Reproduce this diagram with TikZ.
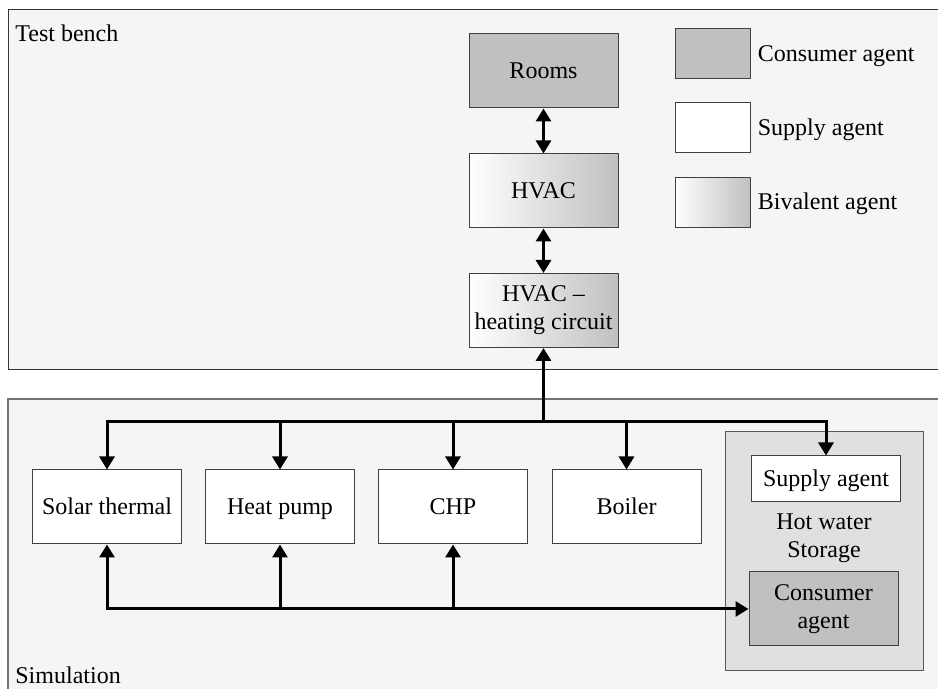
\documentclass[tikz,border=0pt]{standalone}
\usepackage{fontspec}
\setmainfont{Liberation Serif}
\usetikzlibrary{arrows.meta,positioning}
\definecolor{panelgray}{RGB}{245,245,245}
\definecolor{consgray}{RGB}{192,192,192}
\definecolor{storegray}{RGB}{224,224,224}
\definecolor{edgegray}{RGB}{64,64,64}

\begin{document}
\begin{tikzpicture}[x=0.5pt,y=-0.5pt,
  every node/.style={font=\fontsize{12}{14}\selectfont},
  agent/.style={draw=edgegray, line width=0.5pt, minimum width=74.5pt, minimum height=37pt, inner sep=1pt, align=center},
  supply/.style={agent, fill=white},
  consumer/.style={agent, fill=consgray},
  bivalent/.style={agent, left color=white, right color=consgray},
  oneline/.style={text height=8.5pt, text depth=1pt},
  legendbox/.style={draw=edgegray, line width=0.5pt, minimum width=37.5pt, minimum height=25pt, inner sep=0pt},
  flow/.style={line width=1.5pt, line cap=rect, -{Triangle[length=6.5pt,width=7.5pt]}},
  flowboth/.style={line width=1.5pt, {Triangle[length=6.5pt,width=7.5pt]}-{Triangle[length=6.5pt,width=7.5pt]}}
]
\useasboundingbox (0,0) rectangle (938,689);
\clip (0,0) rectangle (938,689);

% panels
\draw[fill=panelgray, draw=black!80, line width=0.5pt] (8,9.5) rectangle (950,370);
\node[anchor=base west, inner sep=0pt] (bench) at (15,42) {Test bench};
\draw[fill=panelgray, draw=black!55, line width=0.7pt] (8,399) rectangle (950,700);
\node[anchor=base west, inner sep=0pt] (sim) at (15,683) {Simulation};

% test bench
\node[consumer, oneline] (rooms) at (543.5,71) {Rooms};
\node[bivalent, oneline] (hvac) at (543.5,191) {HVAC};
\node[bivalent] (hc) at (543.5,310.5) {HVAC --\\heating circuit};

% legend
\node[legendbox, fill=consgray] (lcons) at (712.5,54) {};
\node[legendbox, fill=white] (lsup) at (712.5,128) {};
\node[legendbox, left color=white, right color=consgray] (lbiv) at (712.5,202.5) {};
\node[right=3.5pt of lcons, inner sep=0pt, oneline] (tcons) {Consumer agent};
\node[right=3.5pt of lsup, inner sep=0pt, oneline] (tsup) {Supply agent};
\node[right=3.5pt of lbiv, inner sep=0pt, oneline] (tbiv) {Bivalent agent};

% simulation
\node[supply, oneline] (solar) at (107,507) {Solar thermal};
\node[supply, oneline] (hp) at (280,507) {Heat pump};
\node[supply, oneline] (chp) at (453,507) {CHP};
\node[supply, oneline] (boiler) at (626.5,507) {Boiler};
\node[draw=black!65, fill=storegray, line width=0.5pt, minimum width=99pt, minimum height=119.5pt] (store) at (824,551.5) {};
\node[supply, oneline, minimum height=23pt] (sup) at (826,479) {Supply agent};
\node[consumer] (cons) at (823.5,609) {Consumer\\agent};
\node[align=center] (hws) at (824,538) {Hot water\\Storage};

% connectors
\coordinate (busT) at (543.5,422);
\coordinate (busB) at (107,609);
\draw[flowboth] (rooms) -- (hvac);
\draw[flowboth] (hvac) -- (hc);
\draw[flow] (busT) -- (hc);
\draw[flow] (busT) -| (solar);
\draw[flow] (busT) -| (hp);
\draw[flow] (busT) -| (chp);
\draw[flow] (busT) -| (boiler);
\draw[flow] (busT) -| (sup);
\draw[flow] (busB) -- (solar);
\draw[flow] (hp |- busB) -- (hp);
\draw[flow] (chp |- busB) -- (chp);
\draw[flow] (busB) -- (cons);
\end{tikzpicture}
\end{document}
